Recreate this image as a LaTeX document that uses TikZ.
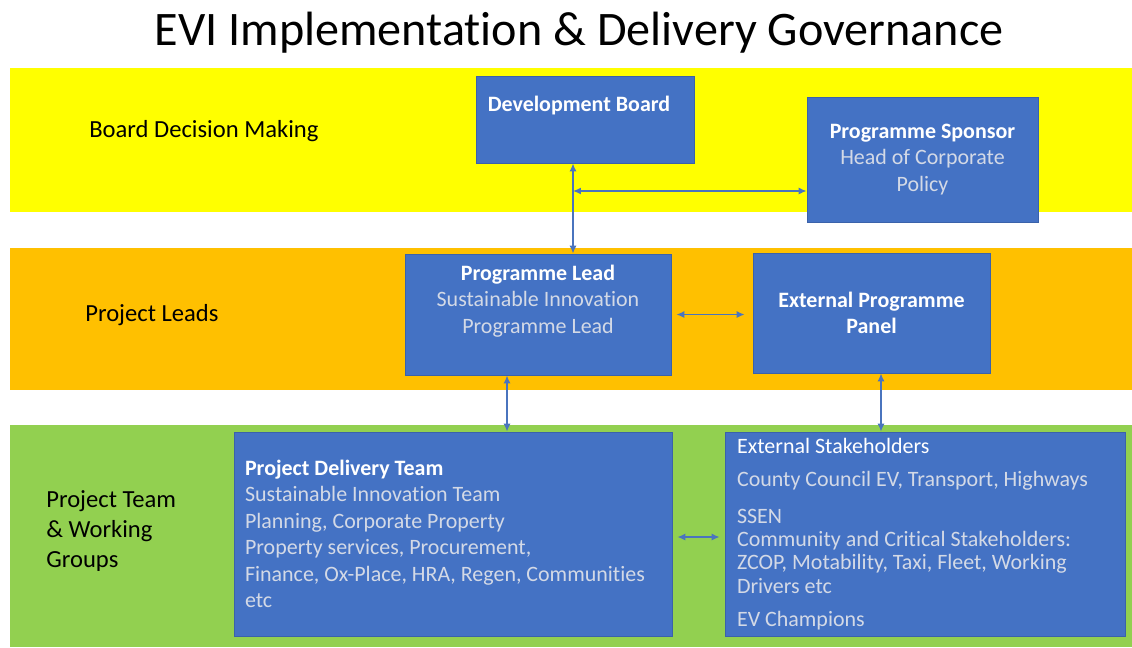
\documentclass[tikz,border=0pt]{standalone}
\usepackage{fontspec}
\setmainfont[Ligatures=NoCommon]{Carlito}
\usepackage{tikz}
\usetikzlibrary{arrows.meta,positioning}

\definecolor{bandyellow}{HTML}{FFFF00}
\definecolor{bandorange}{HTML}{FFC000}
\definecolor{bandgreen}{HTML}{92D050}
\definecolor{boxfill}{HTML}{4472C4}
\definecolor{boxline}{HTML}{3A62AA}
\definecolor{boxtext}{HTML}{D3D9E6}
\definecolor{linkcol}{HTML}{4A74BE}
\newcommand\boxfont{\fontsize{12.5}{15.1}\selectfont}
\newcommand\sidefont{\fontsize{14}{17}\selectfont}
\newcommand\titlefont{\fontsize{27.4}{32}\selectfont}
\newcommand\boxhead[1]{{\color{white}\bfseries #1}}

\begin{document}
\begin{tikzpicture}[x=0.02cm,y=-0.02cm,
  box/.style={draw=boxline,fill=boxfill,line width=0.5pt,inner sep=0pt},
  boxtxt/.style={text=boxtext,font=\boxfont,inner sep=0pt,align=center},
  side/.style={anchor=west,font=\sidefont,align=flush left,inner sep=0pt},
  link/.style={draw=linkcol,line width=0.8pt,{Latex[length=4.5pt,width=4pt]}-{Latex[length=4.5pt,width=4pt]}}]
\useasboundingbox (0,0) rectangle (1132,647);
\fill[bandyellow] (10,68) rectangle (1132,212);
\fill[bandorange] (10,248) rectangle (1132,390);
\fill[bandgreen] (10,425) rectangle (1132,647);

\node[font=\titlefont] (title) at (579,33) {EVI Implementation \& Delivery Governance};

\node[side] (bdm) at (89,131) {Board Decision Making};
\node[side] (pld) at (85,315) {Project Leads};
\node[side] (ptw) at (46,531) {Project Team\\\& Working\\Groups};

\node[box,minimum width=4.36cm,minimum height=1.74cm] (db) at (585,119.5) {};
\node[boxtxt,below=0.4cm of db.north,xshift=-0.12cm] (dbtxt) {\boxhead{Development Board}};
\node[box,boxtxt,minimum width=4.62cm,minimum height=2.5cm] (ps) at (922.5,159.5)
  {\boxhead{Programme Sponsor}\\Head of Corporate\\Policy};
\node[box,minimum width=5.32cm,minimum height=2.42cm] (pl) at (538,314.5) {};
\node[boxtxt,below=0.22cm of pl.north] (pltxt)
  {\boxhead{Programme Lead}\\Sustainable Innovation\\Programme Lead};
\node[box,boxtxt,minimum width=4.74cm,minimum height=2.4cm] (epp) at (871.5,313)
  {\boxhead{External Programme}\\\boxhead{Panel}};
\node[box,boxtxt,align=flush left,minimum width=8.76cm,minimum height=4.08cm,text width=8.32cm] (pdt) at (453,534)
  {\boxhead{Project Delivery Team}\\Sustainable Innovation Team\\Planning, Corporate Property\\
   Property services, Procurement,\\Finance, Ox-Place, HRA, Regen, Communities\\etc};
\node[box,boxtxt,align=flush left,minimum width=8cm,minimum height=4.08cm,text width=7.52cm,
  font=\fontsize{12.5}{13.3}\selectfont] (es) at (925,534)
  {\textcolor{white}{External Stakeholders}\\[5.4pt]County Council EV, Transport, Highways\\[7.6pt]SSEN\\
   Community and Critical Stakeholders:\\ZCOP, Motability, Taxi, Fleet, Working\\Drivers etc\\[5.4pt]EV Champions};

\coordinate (dbfoot) at ([xshift=-0.24cm]db.south);
\coordinate (psin) at ([yshift=-0.63cm]ps.west);
\draw[link] (dbfoot) -- (dbfoot |- pl.north);
\draw[link] (dbfoot |- psin) -- (psin);
\draw[link,shorten <=0.1cm,shorten >=0.16cm] (pl.east) -- (pl.east -| epp.west);
\draw[link] ([xshift=-0.62cm]pl.south) -- ([xshift=-0.62cm]pl.south |- pdt.north);
\draw[link] ([xshift=0.19cm]epp.south) -- ([xshift=0.19cm]epp.south |- es.north);
\draw[link,shorten <=0.1cm,shorten >=0.1cm] ([yshift=-0.06cm]pdt.east) -- ([yshift=-0.06cm]pdt.east -| es.west);
\end{tikzpicture}
\end{document}
